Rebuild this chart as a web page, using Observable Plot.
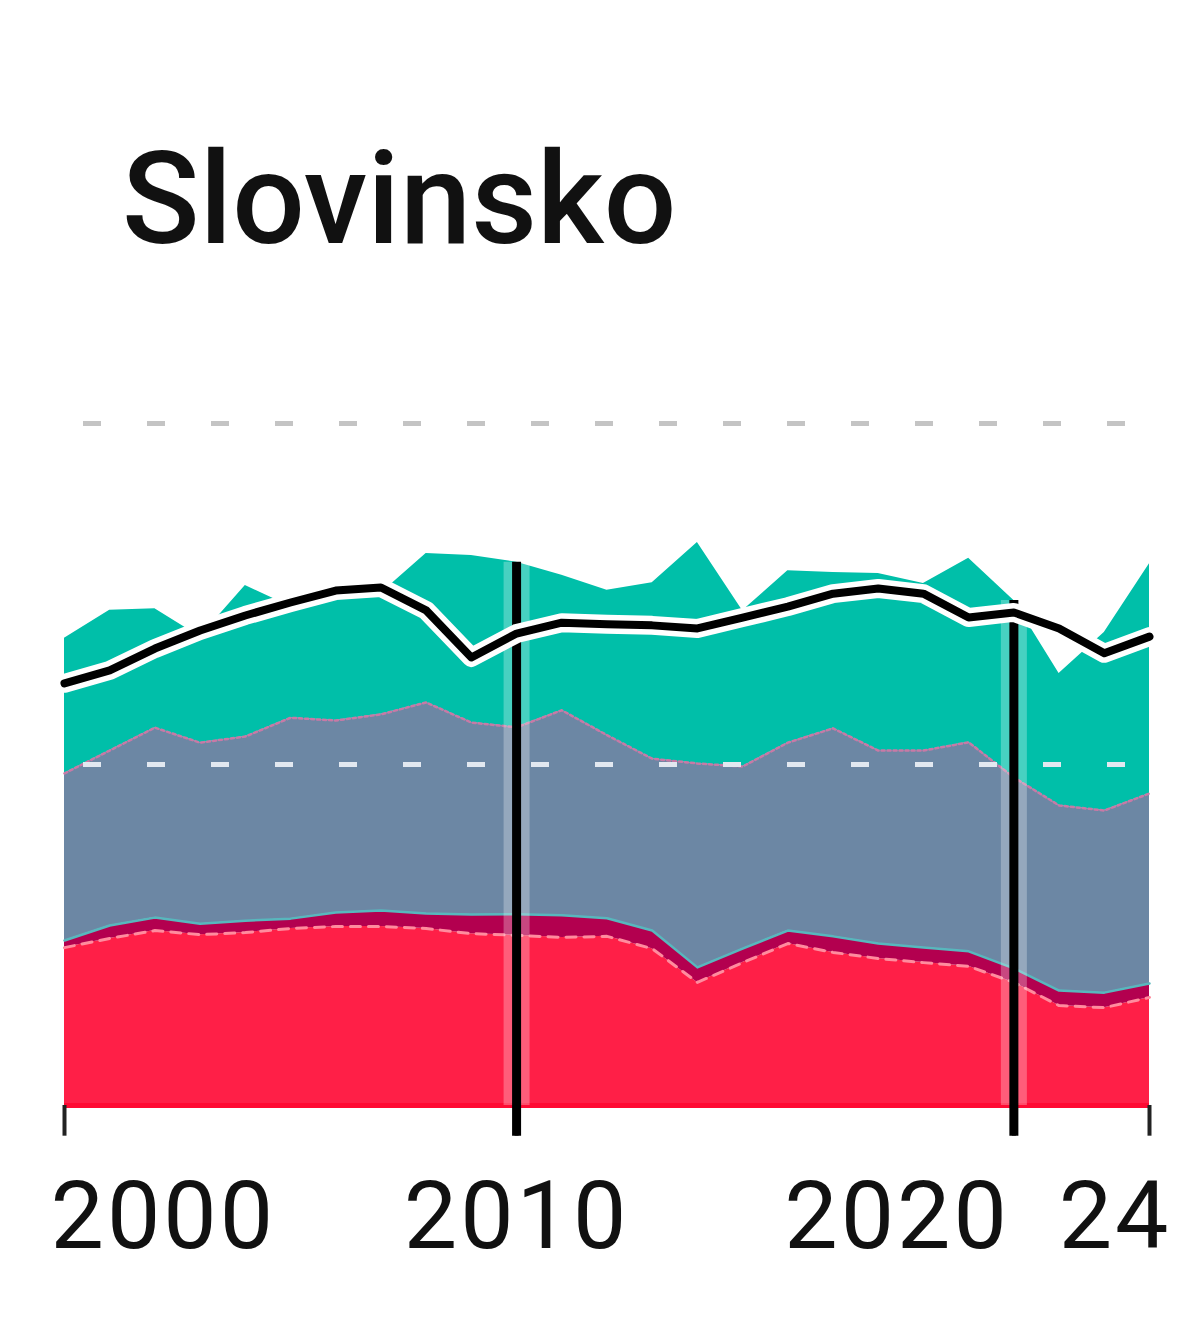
<!DOCTYPE html>
<html>
<head>
<meta charset="utf-8">
<script src="https://cdn.jsdelivr.net/npm/d3@7"></script>
<script src="https://cdn.jsdelivr.net/npm/@observablehq/plot@0.6"></script>
<style>
  html, body { margin: 0; padding: 0; background: #fff; }
  #wrap { position: relative; width: 1200px; height: 1338px; overflow: hidden; }
  #title { position: absolute; left: 122px; top: 135px; font-family: Roboto, "Noto Sans", sans-serif; font-size: 128px; font-weight: 500; line-height: 1; color: #111; }
  #chart { position: absolute; left: 0; top: 300px; }
</style>
</head>
<body>
<div id="wrap">
  <div id="title">Slovinsko</div>
  <div id="chart"></div>
</div>
<script>
// ---- data (TWh) ----
const years = [2000, 2001, 2002, 2003, 2004, 2005, 2006, 2007, 2008, 2009, 2010, 2011, 2012,
               2013, 2014, 2015, 2016, 2017, 2018, 2019, 2020, 2021, 2022, 2023, 2024];
const coal = [4.63, 4.90, 5.13, 5.01, 5.07, 5.19, 5.25, 5.25, 5.19, 5.04, 4.99, 4.93, 4.96,
              4.60, 3.61, 4.19, 4.75, 4.49, 4.31, 4.19, 4.08, 3.61, 2.93, 2.87, 3.17];
const gas = [0.21, 0.38, 0.38, 0.32, 0.35, 0.29, 0.41, 0.47, 0.44, 0.56, 0.62, 0.65, 0.53,
             0.53, 0.44, 0.41, 0.38, 0.47, 0.44, 0.44, 0.44, 0.41, 0.44, 0.44, 0.41];
const nuclear = [4.90, 5.13, 5.57, 5.31, 5.40, 5.89, 5.63, 5.75, 6.19, 5.63, 5.48, 6.01, 5.37,
                 5.04, 5.98, 5.34, 5.51, 6.10, 5.66, 5.78, 6.13, 5.60, 5.43, 5.34, 5.57];
const renewables = [3.96, 4.11, 3.49, 3.11, 4.43, 3.26, 3.70, 3.55, 4.37, 4.90, 4.84, 3.96, 4.25,
                    5.16, 6.48, 4.57, 5.04, 4.57, 5.19, 4.90, 5.40, 5.19, 3.87, 5.22, 6.74];
const consumption = [12.38, 12.76, 13.40, 13.93, 14.37, 14.75, 15.10, 15.19, 14.52, 13.14, 13.84, 14.16, 14.11,
                     14.08, 13.99, 14.31, 14.63, 15.01, 15.16, 15.01, 14.31, 14.46, 13.99, 13.26, 13.75];
const sourceNames = ["uhlí", "plyn", "jádro", "OZE"];
const eventYears = [2010, 2021];
const tickYears = [2000, 2010, 2021, 2024];
const tickLabels = ["2000", "2010", "2020", "24"];
const gridValues = [10, 20];

// ---- derived table ----
const series = [coal, gas, nuclear, renewables];
const table = years.flatMap((year, i) => series.map((s, k) => ({year, source: sourceNames[k], value: s[i]})));
const cum = (n) => years.map((_, i) => series.slice(0, n).reduce((a, s) => a + s[i], 0));
const top1 = cum(1), top2 = cum(2), top3 = cum(3), total = cum(4);
const idx = years.map((_, i) => i);
const totalAt = (y) => total[years.indexOf(y)];

const FONT = "Roboto, 'Noto Sans', sans-serif";
const labelStyle = {y: 0, text: (d, i) => tickLabels[i], lineAnchor: "top", dy: 75, fontSize: 95, fontFamily: FONT, fill: "#111"};

const chart = Plot.plot({
  width: 1200,
  height: 1038,
  marginTop: 123,
  marginBottom: 233,
  marginLeft: 64,
  marginRight: 51,
  x: {domain: [2000, 2024], axis: null},
  y: {domain: [0, 20], axis: null},
  color: {domain: sourceNames, range: ["#ff1f47", "#b3004f", "#6c87a4", "#00bfa9"]},
  style: {background: "transparent", overflow: "visible", letterSpacing: "3px"},
  marks: [
    Plot.ruleY([gridValues[1]], {stroke: "#c4c4c4", strokeWidth: 5, strokeDasharray: "18,46", strokeDashoffset: 45}),
    Plot.areaY(table, {x: "year", y: "value", z: "source", fill: "source"}),
    // layer edges
    Plot.lineY(idx, {x: i => years[i], y: i => top1[i], stroke: "#ff8c9e", strokeWidth: 3, strokeDasharray: "10,8"}),
    Plot.lineY(idx, {x: i => years[i], y: i => top2[i], stroke: "#58b7bd", strokeWidth: 2.5}),
    Plot.lineY(idx, {x: i => years[i], y: i => top3[i], stroke: "#c77aa6", strokeWidth: 2.5, strokeDasharray: "3,3"}),
    Plot.ruleY([0], {stroke: "#ff0a33", strokeWidth: 5}),
    Plot.ruleY([gridValues[0]], {stroke: "#e2e8f0", strokeWidth: 5, strokeDasharray: "18,46", strokeDashoffset: 45}),
    // event markers
    Plot.ruleX(eventYears, {x: d => d, y1: 0, y2: d => totalAt(d), stroke: "white", strokeOpacity: 0.28, strokeWidth: 26}),
    Plot.ruleX(tickYears, {x: d => d, y1: 0, y2: -0.9, stroke: "#222", strokeWidth: 4}),
    Plot.ruleX(eventYears, {x: d => d, y1: -0.9, y2: d => totalAt(d), stroke: "#000", strokeWidth: 9}),
    // consumption line
    Plot.lineY(idx, {x: i => years[i], y: i => consumption[i], stroke: "white", strokeWidth: 19, strokeLinejoin: "round"}),
    Plot.lineY(idx, {x: i => years[i], y: i => consumption[i], stroke: "#000", strokeWidth: 8, strokeLinejoin: "round"}),
    // x labels
    Plot.text(tickYears, {...labelStyle, x: d => d, filter: (d, i) => i === 0, textAnchor: "start", dx: -14}),
    Plot.text(tickYears, {...labelStyle, x: d => d, filter: (d, i) => i === 1, textAnchor: "middle", dx: 0}),
    Plot.text(tickYears, {...labelStyle, x: d => d, filter: (d, i) => i === 2, textAnchor: "end", dx: -4}),
    Plot.text(tickYears, {...labelStyle, x: d => d, filter: (d, i) => i === 3, textAnchor: "end", dx: 22})
  ]
});
document.getElementById("chart").appendChild(chart);
</script>
</body>
</html>
